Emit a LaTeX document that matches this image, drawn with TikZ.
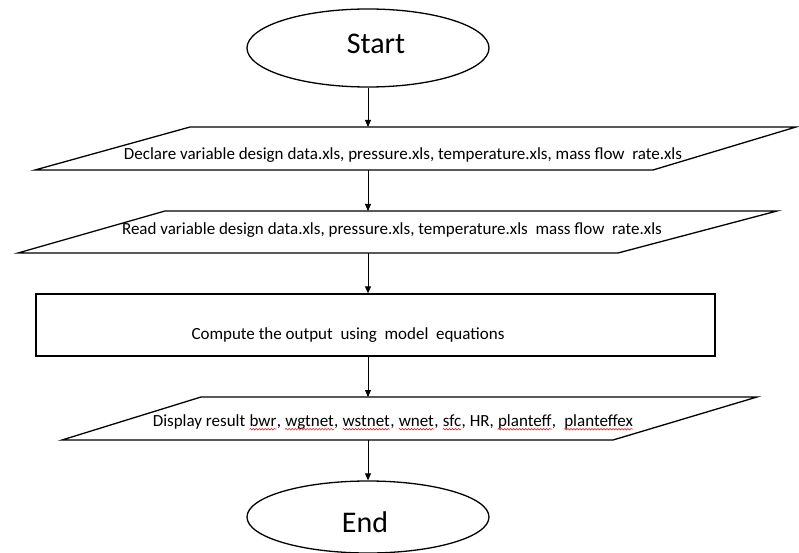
\documentclass[tikz,border=0pt]{standalone}
\usepackage{fontspec}
\setmainfont{Carlito}
\usetikzlibrary{shapes.geometric,arrows.meta,decorations.pathmorphing}
\tikzset{
  outline/.style={draw=black, line width=1.3pt},
  terminal/.style={ellipse, outline, minimum width=242pt, minimum height=78pt, inner sep=0pt},
  termtext/.style={inner sep=0pt, font=\fontsize{30}{34}\selectfont},
  iotext/.style={inner sep=0pt, font=\fontsize{17}{20}\selectfont},
  word/.style={iotext, anchor=base west},
  flow/.style={draw=black, line width=0.9pt, -{Triangle[length=7pt,width=6pt]}},
  % red wavy underline, as a spell checker marks unknown words
  spell/.style={draw=red, line width=0.5pt, decorate, decoration={snake, amplitude=0.8pt, segment length=3pt}}
}
\newcommand\spellunder[1]{\draw[spell] ([yshift=-2.8pt]#1.base west) -- ([yshift=-2.8pt]#1.base east);}
\begin{document}
\begin{tikzpicture}[x=1pt,y=-1pt]
\useasboundingbox (0,0) rectangle (799,553);

% terminals
\node[terminal] (start) at (368,48) {};
\node[termtext] (starttext) at (376,44) {Start};
\node[terminal, minimum height=72pt] (end) at (368,517) {};
\node[termtext] (endtext) at (365,522) {End};

% input/output shapes
\draw[outline] (190,127) -- (796,127) -- (653,170) -- (35,170) -- cycle;
\coordinate (decl-n) at (368,127);
\coordinate (decl-s) at (368,170);
\node[iotext] (decl) at (403,155) {Declare variable design data.xls, pressure.xls, temperature.xls, mass flow\ \ rate.xls};

\draw[outline] (165,211) -- (777,211) -- (618,253) -- (18,253) -- cycle;
\coordinate (read-n) at (368,211);
\coordinate (read-s) at (368,253);
\node[iotext] (read) at (392,230) {Read variable design data.xls, pressure.xls, temperature.xls\ \ mass flow\ \ rate.xls};

% process box
\node[outline, minimum width=679pt, minimum height=62pt, inner sep=0pt] (compute) at (375.5,325) {};
\node[iotext] (computetext) at (348,335) {Compute the output\ \ using\ \ model\ \ equations};

\draw[outline] (201,397) -- (757,397) -- (613,440) -- (62,440) -- cycle;
\coordinate (disp-n) at (368,397);
\coordinate (disp-s) at (368,440);
% the output line is set word by word so the flagged words can be underlined
\node[iotext] (disp) at (389,422) {\phantom{Display result bwr, wgtnet, wstnet, wnet, sfc, HR, planteff,\ \ planteffex}};
\node[word] (w0) at (disp.base west) {Display result\ \mbox{}};
\node[word] (w1) at (w0.base east) {bwr};
\node[word] (c1) at (w1.base east) {,\ \mbox{}};
\node[word] (w2) at (c1.base east) {wgtnet};
\node[word] (c2) at (w2.base east) {,\ \mbox{}};
\node[word] (w3) at (c2.base east) {wstnet};
\node[word] (c3) at (w3.base east) {,\ \mbox{}};
\node[word] (w4) at (c3.base east) {wnet};
\node[word] (c4) at (w4.base east) {,\ \mbox{}};
\node[word] (w5) at (c4.base east) {sfc};
\node[word] (c5) at (w5.base east) {, HR,\ \mbox{}};
\node[word] (w6) at (c5.base east) {planteff};
\node[word] (c6) at (w6.base east) {,\ \ \mbox{}};
\node[word] (w7) at (c6.base east) {planteffex};
\spellunder{w1}
\spellunder{w2}
\spellunder{w3}
\spellunder{w4}
\spellunder{w5}
\spellunder{w6}
\spellunder{w7}

% connectors
\draw[flow] (start.south) -- (decl-n);
\draw[flow] (decl-s) -- (read-n);
\draw[flow] (read-s) -- (compute.north -| read-s);
\draw[flow] (compute.south -| disp-n) -- (disp-n);
\draw[flow] (disp-s) -- (end.north);
\end{tikzpicture}
\end{document}
